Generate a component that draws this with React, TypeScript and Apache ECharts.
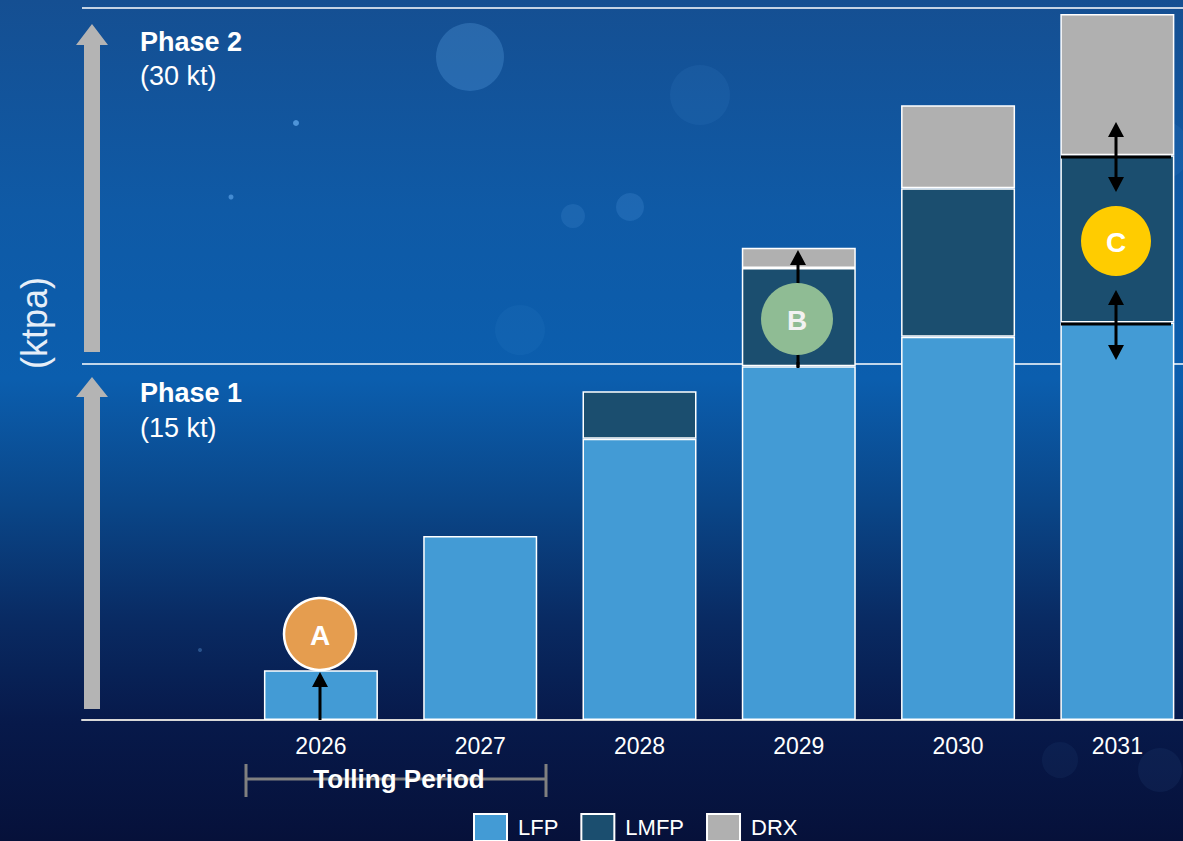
import React, { useEffect, useRef } from "react";
import * as echarts from "echarts";

const categories = ["", "2026", "2027", "2028", "2029", "2030", "2031"];
const lfp = [null, 2.1, 7.75, 11.85, 14.9, 16.15, 16.75];
const lmfp = [null, null, null, 2.0, 4.15, 6.25, 7.05];
const drx = [null, null, null, null, 0.85, 3.5, 5.95];
const yTicks = [0, 15, 30];

const FONT = "Liberation Sans, Arial, sans-serif";

function arrowUp(x: number, tip: number, base: number, bottom: number, shaftW: number, headW: number, fill: string) {
  return {
    type: "polygon",
    shape: {
      points: [
        [x, tip],
        [x + headW / 2, base],
        [x + shaftW / 2, base],
        [x + shaftW / 2, bottom],
        [x - shaftW / 2, bottom],
        [x - shaftW / 2, base],
        [x - headW / 2, base],
      ],
    },
    style: { fill },
    silent: true,
  };
}

function blackArrow(x: number, y1: number, y2: number, doubleEnd: boolean) {
  const h = 15;
  const w = 16;
  const els: any[] = [
    {
      type: "line",
      shape: { x1: x, y1: y1 + h - 2, x2: x, y2: doubleEnd ? y2 - h + 2 : y2 },
      style: { stroke: "#000", lineWidth: 3 },
    },
    {
      type: "polygon",
      shape: { points: [[x, y1], [x + w / 2, y1 + h], [x - w / 2, y1 + h]] },
      style: { fill: "#000" },
    },
  ];
  if (doubleEnd) {
    els.push({
      type: "polygon",
      shape: { points: [[x, y2], [x + w / 2, y2 - h], [x - w / 2, y2 - h]] },
      style: { fill: "#000" },
    });
  }
  return els;
}

function badge(cx: number, cy: number, r: number, fill: string, label: string, stroke?: string, textColor = "#fff") {
  return [
    {
      type: "circle",
      shape: { cx, cy, r },
      style: { fill, stroke: stroke || "none", lineWidth: stroke ? 2.5 : 0 },
      z: 20,
    },
    {
      type: "text",
      x: cx,
      y: cy + 1,
      style: {
        text: label,
        fill: textColor,
        font: `bold 28px ${FONT}`,
        textAlign: "center",
        textVerticalAlign: "middle",
      },
      z: 21,
    },
  ];
}

export default function App() {
  const ref = useRef<HTMLDivElement>(null);

  useEffect(() => {
    if (!ref.current) return;
    const chart = echarts.init(ref.current, null, { renderer: "svg" });

    const bokeh = [
      [470, 57, 34, 0.22],
      [630, 207, 14, 0.15],
      [573, 216, 12, 0.12],
      [700, 95, 30, 0.07],
      [296, 123, 3, 0.6],
      [231, 197, 2.5, 0.5],
      [1160, 150, 30, 0.07],
      [520, 330, 25, 0.05],
      [200, 650, 2, 0.3],
      [820, 560, 2, 0.3],
      [980, 610, 2, 0.3],
      [1160, 770, 22, 0.06],
      [1060, 760, 18, 0.05],
    ].map(([cx, cy, r, o]) => ({
      type: "circle",
      shape: { cx, cy, r },
      style: { fill: `rgba(120,190,255,${o})` },
      silent: true,
      z: -5,
    }));

    const option: any = {
      animation: false,
      backgroundColor: new echarts.graphic.LinearGradient(0, 0, 0, 1, [
        { offset: 0, color: "#154f92" },
        { offset: 0.25, color: "#0f5aa6" },
        { offset: 0.45, color: "#0b5eae" },
        { offset: 0.6, color: "#0a4688" },
        { offset: 0.74, color: "#092a62" },
        { offset: 0.86, color: "#07194a" },
        { offset: 1, color: "#06113a" },
      ]),
      grid: {
        left: 82,
        top: 8,
        height: 712,
        width: 1115,
        containLabel: false,
        outerBoundsMode: "none",
      },
      legend: {
        data: ["LFP", "LMFP", "DRX"],
        left: 473,
        top: 813,
        padding: 0,
        itemWidth: 33,
        itemHeight: 27,
        itemGap: 22,
        icon: "rect",
        itemStyle: { borderColor: "#fff", borderWidth: 2 },
        textStyle: { color: "#fff", fontSize: 22, fontFamily: FONT, padding: [0, 0, 0, 6] },
      },
      xAxis: {
        type: "category",
        data: categories,
        axisLine: { show: true, lineStyle: { color: "#d8d8d8", width: 2 } },
        axisTick: { show: false },
        axisLabel: { color: "#fff", fontSize: 23, fontFamily: FONT, margin: 14 },
      },
      yAxis: {
        type: "value",
        min: yTicks[0],
        max: yTicks[yTicks.length - 1],
        interval: yTicks[1] - yTicks[0],
        axisLine: { show: false },
        axisTick: { show: false },
        axisLabel: { show: false },
        splitLine: { show: true, lineStyle: { color: "#ffffff", width: 1.5 } },
      },
      series: [
        { name: "LFP", data: lfp, color: "#439bd5" },
        { name: "LMFP", data: lmfp, color: "#1b4e6f" },
        { name: "DRX", data: drx, color: "#b0b0b0" },
      ].map((s) => ({
        name: s.name,
        type: "bar",
        stack: "total",
        data: s.data,
        barWidth: 114,
        itemStyle: { color: s.color, borderColor: "#ffffff", borderWidth: 1.5 },
        emphasis: { disabled: true },
      })),
      graphic: [
        ...bokeh,
        arrowUp(92, 24, 45, 352, 16, 32, "#b4b4b4"),
        arrowUp(92, 377, 397, 709, 16, 32, "#b4b4b4"),
        {
          type: "text",
          x: 140,
          y: 42,
          style: { text: "Phase 2", fill: "#fff", font: `bold 27px ${FONT}`, textVerticalAlign: "middle" },
        },
        {
          type: "text",
          x: 140,
          y: 76,
          style: { text: "(30 kt)", fill: "#fff", font: `27px ${FONT}`, textVerticalAlign: "middle" },
        },
        {
          type: "text",
          x: 140,
          y: 393,
          style: { text: "Phase 1", fill: "#fff", font: `bold 27px ${FONT}`, textVerticalAlign: "middle" },
        },
        {
          type: "text",
          x: 140,
          y: 428,
          style: { text: "(15 kt)", fill: "#fff", font: `27px ${FONT}`, textVerticalAlign: "middle" },
        },
        {
          type: "text",
          x: 34,
          y: 323,
          rotation: Math.PI / 2,
          style: {
            text: "(ktpa)",
            fill: "#e6eef8",
            font: `36px ${FONT}`,
            textAlign: "center",
            textVerticalAlign: "middle",
          },
        },
        { type: "line", shape: { x1: 245, y1: 779, x2: 547, y2: 779 }, style: { stroke: "#808080", lineWidth: 3 }, z: 10 },
        { type: "line", shape: { x1: 246, y1: 764, x2: 246, y2: 797 }, style: { stroke: "#808080", lineWidth: 3 }, z: 10 },
        { type: "line", shape: { x1: 546, y1: 764, x2: 546, y2: 797 }, style: { stroke: "#808080", lineWidth: 3 }, z: 10 },
        {
          type: "text",
          x: 399,
          y: 779,
          z: 11,
          style: {
            text: "Tolling Period",
            fill: "#fff",
            font: `bold 26px ${FONT}`,
            textAlign: "center",
            textVerticalAlign: "middle",
          },
        },
        ...blackArrow(320, 672, 720, false).map((e) => ({ ...e, z: 15 })),
        ...blackArrow(798, 250, 367, false).map((e) => ({ ...e, z: 15 })),
        { type: "line", shape: { x1: 798, y1: 362, x2: 798, y2: 368 }, style: { stroke: "#000", lineWidth: 3 }, z: 15 },
        { type: "line", shape: { x1: 1061, y1: 157, x2: 1171, y2: 157 }, style: { stroke: "#000", lineWidth: 3 }, z: 15 },
        { type: "line", shape: { x1: 1061, y1: 324, x2: 1171, y2: 324 }, style: { stroke: "#000", lineWidth: 3 }, z: 15 },
        ...blackArrow(1116, 122, 192, true).map((e) => ({ ...e, z: 15 })),
        ...blackArrow(1116, 290, 360, true).map((e) => ({ ...e, z: 15 })),
        ...badge(320, 634, 36, "#e59d4f", "A", "#ffffff"),
        ...badge(797, 319, 36, "#8fbc94", "B", undefined, "#f2f2f2"),
        ...badge(1116, 241, 35, "#ffcc00", "C"),
      ],
    };

    chart.setOption(option);
    return () => chart.dispose();
  }, []);

  return (
    <div
      ref={ref}
      style={{ position: "absolute", left: 0, top: 0, width: 1183, height: 841 }}
    />
  );
}
